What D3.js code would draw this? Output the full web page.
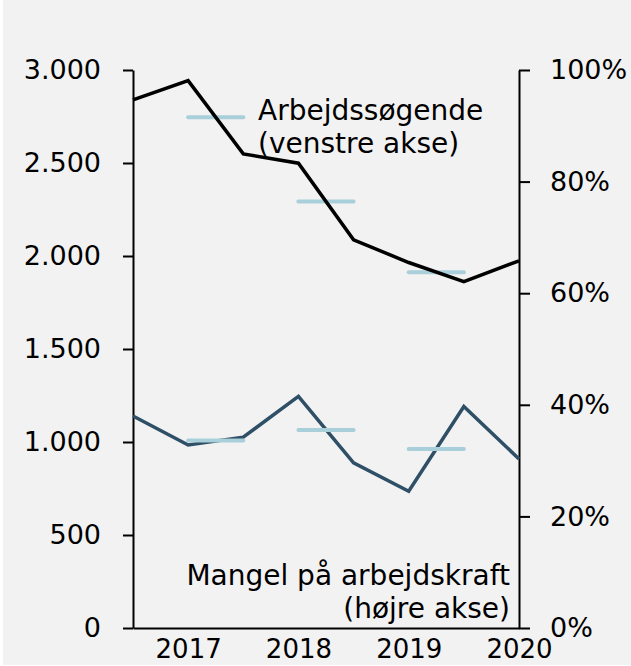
<!DOCTYPE html>
<html>
<head>
<meta charset="utf-8">
<script src="https://cdn.jsdelivr.net/npm/d3@7"></script>
<style>
  html, body { margin: 0; padding: 0; background: #ffffff; }
  svg { display: block; }
  text { font-family: "DejaVu Sans", sans-serif; fill: #000; }
</style>
</head>
<body>
<svg id="chart" width="631" height="666"></svg>
<script>
// Half-year periods
const categories = ["2016-2", "2017-1", "2017-2", "2018-1", "2018-2", "2019-1", "2019-2", "2020-1"];
const tickLabels = ["", "2017", "", "2018", "", "2019", "", "2020"];
// Arbejdssøgende (venstre akse), persons
const seekers = [2839, 2943, 2549, 2499, 2087, 1965, 1862, 1974];
// Mangel på arbejdskraft (højre akse), share
const shortage = [0.380, 0.328, 0.342, 0.415, 0.296, 0.245, 0.397, 0.303];
// Yearly averages, drawn as horizontal segments
const avgStart = ["2017-1", "2018-1", "2019-1"];
const avgEnd = ["2017-2", "2018-2", "2019-2"];
const seekersAvg = [2746, 2293, 1913];
const shortageAvg = [0.336, 0.355, 0.321];
const leftTicks = [0, 500, 1000, 1500, 2000, 2500, 3000];
const rightTicks = [0, 0.2, 0.4, 0.6, 0.8, 1.0];

const svg = d3.select("#chart");
svg.append("rect").attr("x", 3).attr("y", 0).attr("width", 628).attr("height", 665).attr("fill", "#f2f2f2");

const x = d3.scalePoint().domain(categories).range([133, 519]);
const yL = d3.scaleLinear().domain([0, 3000]).range([628, 70]);
const yR = d3.scaleLinear().domain([0, 1]).range([628, 70]);

const fmtL = d => d3.format(",")(d).replace(/,/g, ".");
const fmtR = d => Math.round(d * 100) + "%";

// Left axis
const gL = svg.append("g").attr("transform", "translate(133,0)")
  .call(d3.axisLeft(yL).tickValues(leftTicks).tickFormat(fmtL).tickSizeInner(10).tickSizeOuter(0).tickPadding(22));
// Right axis
const gR = svg.append("g").attr("transform", "translate(519,0)")
  .call(d3.axisRight(yR).tickValues(rightTicks).tickFormat(fmtR).tickSizeInner(11).tickSizeOuter(0).tickPadding(20));
// Bottom axis
const gB = svg.append("g").attr("transform", "translate(0,628)")
  .call(d3.axisBottom(x).tickFormat((d, i) => tickLabels[i]).tickSize(0).tickPadding(12));

[gL, gR, gB].forEach(g => {
  g.selectAll("path.domain").attr("stroke", "#000").attr("stroke-width", 2);
  g.selectAll(".tick line").attr("stroke", "#000").attr("stroke-width", 2);
  g.selectAll("text").attr("font-family", "DejaVu Sans, sans-serif").attr("fill", "#000");
});
gL.selectAll("text").attr("font-size", 27);
gR.selectAll("text").attr("font-size", 27);
gB.selectAll("text").attr("font-size", 26).attr("dy", "0.71em");

// Lines
const lineL = d3.line().x((d, i) => x(categories[i])).y(d => yL(d));
const lineR = d3.line().x((d, i) => x(categories[i])).y(d => yR(d));

svg.append("path").datum(shortage).attr("d", lineR)
  .attr("fill", "none").attr("stroke", "#2e4f66").attr("stroke-width", 3.5).attr("stroke-linejoin", "miter");

// Average segments
const segs = svg.append("g");
seekersAvg.forEach((v, i) => {
  segs.append("line").attr("x1", x(avgStart[i])).attr("x2", x(avgEnd[i]))
    .attr("y1", yL(v)).attr("y2", yL(v))
    .attr("stroke", "#a9cfda").attr("stroke-width", 4).attr("stroke-linecap", "round");
});
shortageAvg.forEach((v, i) => {
  segs.append("line").attr("x1", x(avgStart[i])).attr("x2", x(avgEnd[i]))
    .attr("y1", yR(v)).attr("y2", yR(v))
    .attr("stroke", "#a9cfda").attr("stroke-width", 4).attr("stroke-linecap", "round");
});

svg.append("path").datum(seekers).attr("d", lineL)
  .attr("fill", "none").attr("stroke", "#000").attr("stroke-width", 3.5).attr("stroke-linejoin", "miter");

// Labels
svg.append("text").attr("x", 258).attr("y", 120).attr("font-size", 28).text("Arbejdssøgende");
svg.append("text").attr("x", 258).attr("y", 153).attr("font-size", 28).text("(venstre akse)");

svg.append("text").attr("x", 510).attr("y", 585).attr("font-size", 28).attr("text-anchor", "end").text("Mangel på arbejdskraft");
svg.append("text").attr("x", 510).attr("y", 618).attr("font-size", 28).attr("text-anchor", "end").text("(højre akse)");
</script>
</body>
</html>
